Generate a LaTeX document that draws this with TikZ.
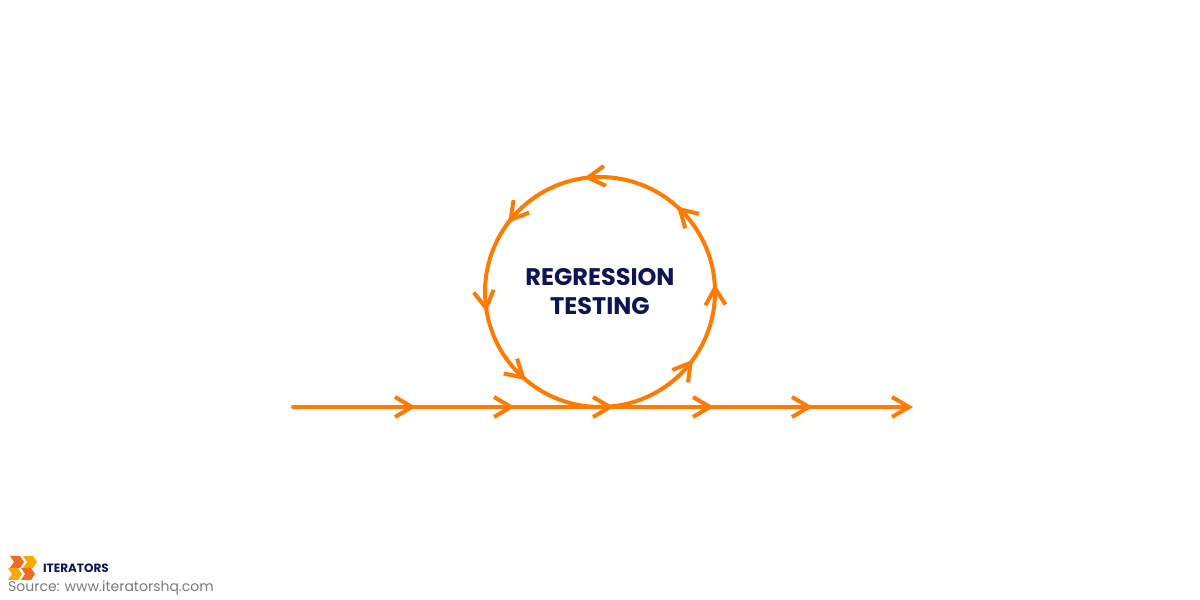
\documentclass[tikz,border=0pt]{standalone}
\usepackage{fontspec}
\setmainfont{Poppins}
\usetikzlibrary{calc}
\definecolor{loopcolor}{HTML}{FF7A00}
\definecolor{titlecolor}{HTML}{0F1454}
\definecolor{sourcecolor}{HTML}{7A7A7A}
\definecolor{logolight}{HTML}{FFA800}
\definecolor{logodark}{HTML}{F26A21}
\tikzset{
  flowline/.style={draw=loopcolor, line width=4pt, line cap=round},
  chevron/.pic={\draw[loopcolor, line width=4pt, line join=miter] (-17,10) -- (0,0) -- (-17,-10);},
  logopiece/.pic={\fill (0,6) -- (10,6) -- (14,0) -- (10,-6) -- (0,-6) -- (4,0) -- cycle;}
}

\begin{document}
\begin{tikzpicture}[x=1pt, y=1pt]
\useasboundingbox (0, 0) rectangle (1200, 600);
\coordinate (center) at (600, 308);
\coordinate (linestart) at (293, 193);
\coordinate (lineend) at (909, 193);

\draw[flowline] (center) circle (115);
\draw[flowline] (linestart) -- (lineend);

% arrows on the line
\foreach \x in {412, 511, 610, 710, 809, 909}
  \pic at (\x, 193) {chevron};
% arrows on the circle
\foreach \a in {2, 46, 96, 141, 188, 228, 322}
  \pic[rotate=\a+90] at ($(center)+(\a:115)$) {chevron};

\node[font=\bfseries\fontsize{24}{29}\selectfont, text=titlecolor, align=center] (title) at (600, 308) {REGRESSION\\TESTING};

% logo
\pic[logodark] at (10, 38) {logopiece};
\pic[logolight] at (23, 38) {logopiece};
\pic[logolight] at (8, 26) {logopiece};
\pic[logodark] at (21, 26) {logopiece};
\node[font=\bfseries\fontsize{12}{14}\selectfont, text=titlecolor, anchor=west, inner sep=0pt] (logotext) at (43, 32) {ITERATORS};
\node[font=\fontsize{14}{16}\selectfont, text=sourcecolor, anchor=west, inner sep=0pt] (source) at (8, 12) {Source: www.iteratorshq.com};
\end{tikzpicture}
\end{document}
